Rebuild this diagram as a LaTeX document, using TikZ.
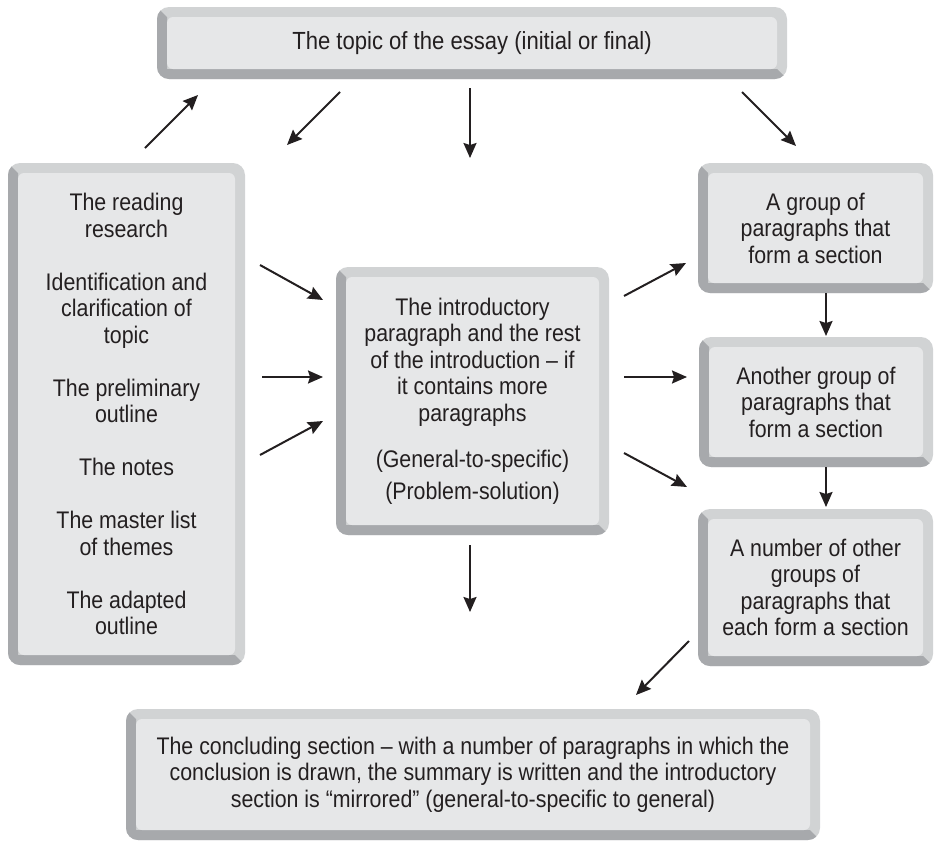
\documentclass[tikz,border=0pt]{standalone}
\usepackage{fontspec}
\setmainfont{Liberation Sans}[FakeStretch=0.89]
\usetikzlibrary{arrows.meta,calc}

\definecolor{face}{HTML}{E6E7E8}
\definecolor{bevlight}{HTML}{D1D3D4}
\definecolor{bevdark}{HTML}{A7A9AC}
\definecolor{ink}{HTML}{231F20}

\tikzset{
  bevelbox/.style={
    rounded corners=12pt, fill=bevlight, inner sep=0pt, align=center,
    text=ink, font=\fontsize{24}{26.5}\selectfont,
    path picture={
      % darker bevel on the left and bottom edges
      \fill[bevdark, sharp corners]
        (path picture bounding box.south west)
        -- (path picture bounding box.north west)
        -- ++(10pt,-10pt)
        |- ($(path picture bounding box.south east)+(-10pt,10pt)$)
        -- (path picture bounding box.south east) -- cycle;
      % raised face
      \fill[face, rounded corners=6pt]
        ($(path picture bounding box.south west)+(10pt,10pt)$)
        rectangle ($(path picture bounding box.north east)+(-10pt,-10pt)$);
    }},
  link/.style={draw=ink, line width=2pt,
    -{Stealth[length=15pt,width=13pt,inset=2pt]}}
}

\begin{document}
\begin{tikzpicture}[x=1pt,y=-1pt]
\useasboundingbox (0,0) rectangle (935,841);

% boxes
\node[bevelbox, minimum width=630pt, minimum height=72pt,
      font=\fontsize{24.8}{27}\selectfont] (topic) at (472,43)
  {The topic of the essay (initial or final)};

\node[bevelbox, minimum width=237pt, minimum height=502pt] (prep) at (126.5,414)
  {The reading\\research\\[26.5pt]
   Identification and\\clarification of\\topic\\[26.5pt]
   The preliminary\\outline\\[26.5pt]
   The notes\\[26.5pt]
   The master list\\of themes\\[26.5pt]
   The adapted\\outline};

\node[bevelbox, minimum width=273pt, minimum height=268pt] (intro) at (472.5,401)
  {The introductory\\paragraph and the rest\\of the introduction -- if\\it contains more\\paragraphs\\[19.5pt]
   (General-to-specific)\\[5.5pt]
   (Problem-solution)};

\node[bevelbox, minimum width=235pt, minimum height=130pt] (sec1) at (815.5,228)
  {A group of\\paragraphs that\\form a section};

\node[bevelbox, minimum width=234pt, minimum height=130pt] (sec2) at (816,402)
  {Another group of\\paragraphs that\\form a section};

\node[bevelbox, minimum width=235pt, minimum height=157pt] (sec3) at (815.5,587.5)
  {A number of other\\groups of\\paragraphs that\\each form a section};

\node[bevelbox, minimum width=694pt, minimum height=131pt] (concl) at (473,774.5)
  {The concluding section -- with a number of paragraphs in which the\\
   conclusion is drawn, the summary is written and the introductory\\
   section is “mirrored” (general-to-specific to general)};

% arrow end points
\coordinate (a1) at (145,148);  \coordinate (a2) at (198,95);
\coordinate (b1) at (340,92);   \coordinate (b2) at (287,145);
\coordinate (c1) at (470,88);   \coordinate (c2) at (470,158);
\coordinate (d1) at (742,92);   \coordinate (d2) at (796,146);
\coordinate (e1) at (260,265);  \coordinate (e2) at (323,300);
\coordinate (f1) at (262,377);  \coordinate (f2) at (323,377);
\coordinate (g1) at (260,455);  \coordinate (g2) at (323,421);
\coordinate (h1) at (624,296);  \coordinate (h2) at (686,263);
\coordinate (i1) at (624,377);  \coordinate (i2) at (687,377);
\coordinate (j1) at (624,453);  \coordinate (j2) at (687,487);
\coordinate (k1) at (826,293);  \coordinate (k2) at (826,336);
\coordinate (l1) at (826,467);  \coordinate (l2) at (826,507);
\coordinate (m1) at (470,545);  \coordinate (m2) at (470,612);
\coordinate (n1) at (689,641);  \coordinate (n2) at (636,695);

% connectors
\foreach \s in {a,b,c,d,e,f,g,h,i,j,k,l,m,n}
  \draw[link] (\s1) -- (\s2);
\end{tikzpicture}
\end{document}
